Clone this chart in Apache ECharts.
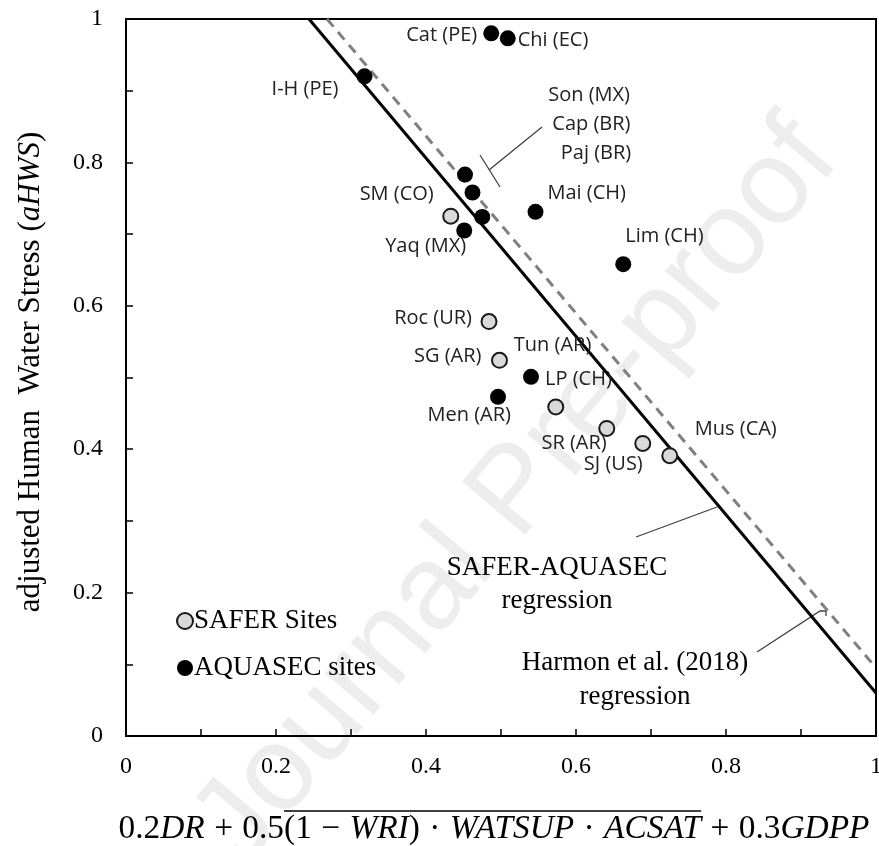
<!DOCTYPE html>
<html>
<head>
<meta charset="utf-8">
<script src="https://cdn.jsdelivr.net/npm/echarts@6/dist/echarts.min.js"></script>
<style>html,body{margin:0;padding:0;background:#fff;overflow:hidden;}#chart{width:879px;height:846px;}</style>
</head>
<body>
<div id="chart"></div>
<script>
// ---------- data ----------
const saferNames = ['SM (CO)', 'Roc (UR)', 'SG (AR)', 'Tun (AR)', 'SR (AR)', 'SJ (US)', 'Mus (CA)'];
const saferX     = [0.433, 0.484, 0.498, 0.573, 0.641, 0.689, 0.725];
const saferY     = [0.725, 0.578, 0.524, 0.459, 0.429, 0.408, 0.391];

const aquasecNames = ['I-H (PE)', 'Cat (PE)', 'Chi (EC)', 'Son (MX)', 'Cap (BR)', 'Paj (BR)', 'Yaq (MX)', 'Mai (CH)', 'Lim (CH)', 'LP (CH)', 'Men (AR)'];
const aquasecX     = [0.318, 0.487, 0.509, 0.452, 0.462, 0.475, 0.451, 0.546, 0.663, 0.540, 0.496];
const aquasecY     = [0.920, 0.980, 0.973, 0.783, 0.758, 0.724, 0.705, 0.731, 0.658, 0.501, 0.473];

// regression lines (end points)
const saferAquasecLineX = [0.244, 1];
const saferAquasecLineY = [1, 0.060];
const harmonLineX = [0.268, 1];
const harmonLineY = [1, 0.095];

const xTicks = [0, 0.2, 0.4, 0.6, 0.8, 1];
const yTicks = [0, 0.2, 0.4, 0.6, 0.8, 1];

// ---------- label placement (style, not data) ----------
const labelPlace = {
  'Cat (PE)': [-14, 2, 'right'],
  'Chi (EC)': [10, 2, 'left'],
  'I-H (PE)': [-26, 13, 'right'],
  'SM (CO)': [-17, -22, 'right'],
  'Yaq (MX)': [2, 16, 'right'],
  'Mai (CH)': [12, -19, 'left'],
  'Lim (CH)': [2, -28, 'left'],
  'Roc (UR)': [-17, -3, 'right'],
  'SG (AR)': [-18, -4, 'right'],
  'Tun (AR)': [-42, -62, 'left'],
  'LP (CH)': [14, 3, 'left'],
  'Men (AR)': [13, 18, 'right'],
  'SR (AR)': [0, 15, 'right'],
  'SJ (US)': [0, 21, 'right'],
  'Mus (CA)': [25, -26, 'left'],
  'Son (MX)': [165, -79, 'right'],
  'Cap (BR)': [158, -68, 'right'],
  'Paj (BR)': [149, -64, 'right']
};

function buildPoints(names, xs, ys) {
  return names.map((n, i) => {
    const p = labelPlace[n] || [10, 0, 'left'];
    return {
      name: n,
      value: [xs[i], ys[i]],
      label: { show: true, position: 'inside', offset: [p[0], p[1]], align: p[2], verticalAlign: 'middle' }
    };
  });
}
function pairs(xs, ys) { return xs.map((x, i) => [x, ys[i]]); }

const labelFont = { fontFamily: '"Open Sans", sans-serif', fontSize: 20, color: '#222' };
const serif = '"Liberation Serif", "Times New Roman", serif';

// ---------- math-like text helper ----------
const measureCtx = document.createElement('canvas').getContext('2d');
function mathGroup(segs, size, opts) {
  const children = [];
  let x = 0, olStart = null, olEnd = null;
  segs.forEach(s => {
    const font = (s.i ? 'italic ' : '') + size + 'px ' + serif;
    measureCtx.font = font;
    const g = (s.g || 0) * size;
    x += g;
    const w = measureCtx.measureText(s.t).width;
    if (s.o) { if (olStart === null) olStart = x; olEnd = x + w; }
    children.push({ type: 'text', x: x, y: 0, style: { text: s.t, font: font, fill: '#000', textAlign: 'left', textVerticalAlign: 'middle' } });
    x += w + g;
  });
  const total = x;
  const sx = opts.width ? opts.width / total : 1;
  children.forEach(c => { c.x = c.x - total / 2; });
  if (olStart !== null && opts.overlineDy !== undefined) {
    children.push({ type: 'line', shape: { x1: olStart - total / 2, y1: opts.overlineDy, x2: olEnd - total / 2, y2: opts.overlineDy }, style: { stroke: '#000', lineWidth: 1.5 } });
  }
  return { type: 'group', x: opts.cx, y: opts.cy, rotation: opts.rotation || 0, scaleX: sx, children: children };
}

const xTitle = mathGroup([
  { t: '0.2' }, { t: 'DR', i: 1 }, { t: '+', g: 0.28 }, { t: '0.5' },
  { t: '(', o: 1 }, { t: '1', o: 1 }, { t: '\u2212', g: 0.28, o: 1 }, { t: 'WRI', i: 1, o: 1 }, { t: ')', o: 1 },
  { t: '\u00b7', g: 0.28, o: 1 }, { t: 'WATSUP', i: 1, o: 1 }, { t: '\u00b7', g: 0.28, o: 1 }, { t: 'ACSAT', i: 1, o: 1 },
  { t: '+', g: 0.28 }, { t: '0.3' }, { t: 'GDPP', i: 1 }
], 33, { cx: 494, cy: 829, width: 751, overlineDy: -18 });

const yTitle = mathGroup([
  { t: 'adjusted Human  Water Stress (' }, { t: 'aHWS', i: 1 }, { t: ')' }
], 31, { cx: 31, cy: 372, rotation: Math.PI / 2 });

const chart = echarts.init(document.getElementById('chart'), null, { renderer: 'canvas' });

function tickFmt(list) {
  return v => {
    const hit = list.find(t => Math.abs(t - v) < 1e-6);
    return hit === undefined ? '' : String(hit);
  };
}

const option = {
  backgroundColor: '#fff',
  animation: false,
  grid: { left: 126, right: 3, top: 19, bottom: 110, show: true, borderColor: '#000', borderWidth: 2, containLabel: false, outerBoundsMode: 'none' },
  xAxis: {
    type: 'value', min: 0, max: 1, interval: 0.1,
    axisLine: { show: true, onZero: false, lineStyle: { color: '#000', width: 2 } },
    axisTick: { show: true, inside: true, length: 7, lineStyle: { color: '#000', width: 1.5 } },
    axisLabel: { formatter: tickFmt(xTicks), fontFamily: serif, fontSize: 24, color: '#000', margin: 19 },
    splitLine: { show: false }
  },
  yAxis: {
    type: 'value', min: 0, max: 1, interval: 0.1,
    axisLine: { show: true, onZero: false, lineStyle: { color: '#000', width: 2 } },
    axisTick: { show: true, inside: true, length: 7, lineStyle: { color: '#000', width: 1.5 } },
    axisLabel: { formatter: tickFmt(yTicks), fontFamily: serif, fontSize: 24, color: '#000', margin: 23 },
    splitLine: { show: false }
  },
  legend: {
    data: ['SAFER Sites', 'AQUASEC sites'],
    orient: 'vertical', left: 171, top: 601,
    itemWidth: 16, itemHeight: 16, itemGap: 17,
    textStyle: { fontFamily: serif, fontSize: 27, color: '#000', lineHeight: 30, padding: [0, 0, 0, -4] }
  },
  series: [
    {
      name: 'SAFER-AQUASEC regression', type: 'line', data: pairs(saferAquasecLineX, saferAquasecLineY),
      symbol: 'none', z: 2, lineStyle: { color: '#000', width: 3 }, silent: true
    },
    {
      name: 'Harmon et al. (2018) regression', type: 'line', data: pairs(harmonLineX, harmonLineY),
      symbol: 'none', z: 2, lineStyle: { color: '#808080', width: 3, type: [10, 7] }, silent: true
    },
    {
      name: 'SAFER Sites', type: 'scatter', z: 4, symbol: 'circle', symbolSize: 15,
      itemStyle: { color: '#d9d9d9', borderColor: '#1a1a1a', borderWidth: 2, opacity: 1 },
      label: Object.assign({ formatter: '{b}' }, labelFont),
      data: buildPoints(saferNames, saferX, saferY)
    },
    {
      name: 'AQUASEC sites', type: 'scatter', z: 4, symbol: 'circle', symbolSize: 16,
      itemStyle: { color: '#000', opacity: 1 },
      label: Object.assign({ formatter: '{b}' }, labelFont),
      data: buildPoints(aquasecNames, aquasecX, aquasecY)
    }
  ],
  graphic: [
    {
      type: 'text', x: 517, y: 493, rotation: 0.87, z: -10, silent: true,
      style: { text: 'Journal Pre-proof', font: '120px "Liberation Sans", sans-serif', fill: '#ededed', textAlign: 'center', textVerticalAlign: 'middle' }
    },
    xTitle,
    yTitle,
    { type: 'text', x: 557, y: 568, style: { text: 'SAFER-AQUASEC', font: '27px ' + serif, fill: '#000', textAlign: 'center', textVerticalAlign: 'middle' } },
    { type: 'text', x: 557, y: 601, style: { text: 'regression', font: '27px ' + serif, fill: '#000', textAlign: 'center', textVerticalAlign: 'middle' } },
    { type: 'text', x: 635, y: 663, style: { text: 'Harmon et al. (2018)', font: '27px ' + serif, fill: '#000', textAlign: 'center', textVerticalAlign: 'middle' } },
    { type: 'text', x: 635, y: 697, style: { text: 'regression', font: '27px ' + serif, fill: '#000', textAlign: 'center', textVerticalAlign: 'middle' } },
    // leader lines
    { type: 'polyline', shape: { points: [[542, 127], [489, 170]] }, style: { stroke: '#404040', lineWidth: 1.3, fill: null } },
    { type: 'polyline', shape: { points: [[480, 155], [500, 187]] }, style: { stroke: '#404040', lineWidth: 1.3, fill: null } },
    { type: 'polyline', shape: { points: [[636, 537], [717, 507]] }, style: { stroke: '#404040', lineWidth: 1.3, fill: null } },
    { type: 'polyline', shape: { points: [[757, 652], [820, 611], [826, 611], [826, 616]] }, style: { stroke: '#404040', lineWidth: 1.3, fill: null } }
  ]
};
chart.setOption(option);
</script>
</body>
</html>
